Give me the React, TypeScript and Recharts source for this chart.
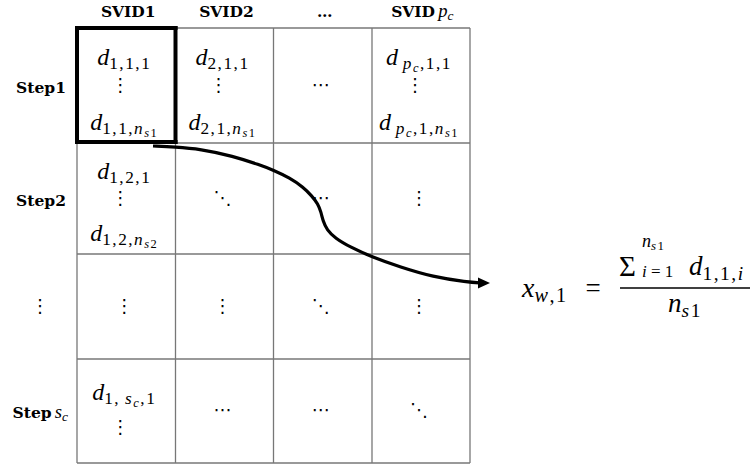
import React from "react";
import { ComposedChart, XAxis, YAxis, Line, Scatter, ReferenceLine } from "recharts";

const W = 753;
const H = 466;

// ---- content ----
const columnLabels = ["SVID1", "SVID2", "…", "SVID\u2009"];
const columnLabelMath = ["", "", "", "p_c"];
const rowLabels = ["Step1", "Step2", "", "Step\u2009"];
const rowLabelMath = ["", "", "", "s_c"];
const rowLabelSymbol = ["", "", "⋮", ""];

const cellTop = [
  ["d_{1,1,1}", "d_{2,1,1}", "", "d\u2009_{p_c,1,1}"],
  ["d_{1,2,1}", "", "", ""],
  ["", "", "", ""],
  ["d_{1,\u2009s_c,1}", "", "", ""],
];
const cellBottom = [
  ["d_{1,1,n_{s1}}", "d_{2,1,n_{s1}}", "", "d\u2009_{p_c,1,n_{s1}}"],
  ["d_{1,2,n_{s2}}", "", "", ""],
  ["", "", "", ""],
  ["", "", "", ""],
];
const cellSymbol = [
  ["⋮", "⋮", "⋯", "⋮"],
  ["⋮", "⋱", "⋯", "⋮"],
  ["⋮", "⋮", "⋱", "⋮"],
  ["⋮", "⋯", "⋯", "⋱"],
];

const formulaParts = ["x_{w,1}", "=", "Σ", "n_{s1}", "i = 1", "d_{1,1,i}", "n_{s1}"];

// ---- diagram geometry (diagram units) ----
const colEdges = [77, 175.5, 273.5, 372, 470];
const rowEdges = [28, 143, 254, 359, 463];
const highlightCell = { col: 0, row: 0 };
const arrowPath = [
  { x: 153, y: 146 }, { x: 175, y: 147 }, { x: 200, y: 149 }, { x: 233, y: 156 },
  { x: 260, y: 165 }, { x: 273, y: 170 }, { x: 290, y: 178 }, { x: 303, y: 187 },
  { x: 312, y: 196 }, { x: 318, y: 204 }, { x: 321, y: 212 }, { x: 323, y: 221 },
  { x: 327, y: 230 }, { x: 335, y: 238 }, { x: 350, y: 247 }, { x: 372, y: 257 },
  { x: 400, y: 267 }, { x: 433, y: 277 }, { x: 467, y: 282 }, { x: 482, y: 283 },
];
const arrowTip = [{ x: 490, y: 283 }];
const formulaAnchors = [
  { x: 522, y: 297, a: "start", s: 28 },
  { x: 593, y: 297, a: "middle", s: 27 },
  { x: 619, y: 276, a: "start", s: 29 },
  { x: 642, y: 247, a: "start", s: 18 },
  { x: 642, y: 277, a: "start", s: 17 },
  { x: 689, y: 275, a: "start", s: 27 },
  { x: 685, y: 312, a: "middle", s: 27 },
];
const fractionBar = { x1: 620, x2: 750, y: 288 };

// ---- math text renderer ----
type Seg = { t: string; size: number; shift: number; italic: boolean; bold: boolean; level: number };

function parseMath(s: string, size: number, shift: number, level: number, out: Seg[]) {
  let i = 0;
  while (i < s.length) {
    const ch = s[i];
    if (ch === "_" || ch === "^") {
      i++;
      let grp = "";
      if (s[i] === "{") {
        let depth = 1;
        let j = i + 1;
        while (j < s.length && depth > 0) {
          if (s[j] === "{") depth++;
          else if (s[j] === "}") depth--;
          j++;
        }
        grp = s.slice(i + 1, j - 1);
        i = j;
      } else {
        grp = s[i];
        i++;
      }
      const sz = size * 0.72;
      const sh = ch === "_" ? shift + size * 0.17 : shift - size * 0.42;
      parseMath(grp, sz, sh, level + 1, out);
    } else {
      const italic = /[a-zA-Z]/.test(ch);
      const last = out[out.length - 1];
      if (last && last.size === size && last.shift === shift && last.italic === italic && !last.bold) {
        last.t += ch;
      } else {
        out.push({ t: ch, size, shift, italic, bold: false, level });
      }
      i++;
    }
  }
}

const MATH_FONT = "'Liberation Serif', serif";
const BOLD_FONT = "'DejaVu Serif', serif";

function MathText(props: {
  x: number; y: number; tex: string; size: number; anchor?: string; prefix?: string; prefixSize?: number;
}) {
  const segs: Seg[] = [];
  if (props.prefix)
    segs.push({ t: props.prefix, size: props.prefixSize || props.size, shift: 0, italic: false, bold: true, level: 0 });
  parseMath(props.tex, props.prefix ? props.size * 1.2 : props.size, 0, 0, segs);
  let prev = 0;
  return (
    <text x={props.x} y={props.y} textAnchor={props.anchor || "middle"} fill="#000" style={{ whiteSpace: "pre" }}>
      {segs.map((s, k) => {
        const dy = s.shift - prev;
        prev = s.shift;
        return (
          <tspan
            key={k}
            dy={dy}
            fontSize={s.size}
            fontFamily={s.bold ? BOLD_FONT : MATH_FONT}
            fontStyle={s.italic ? "italic" : "normal"}
            fontWeight={s.bold ? "bold" : "normal"}
            letterSpacing={s.level > 0 ? 1.5 : 0}
          >
            {s.t}
          </tspan>
        );
      })}
    </text>
  );
}

// ---- build label table ----
type Item = { x: number; y: number; kind: string; tex: string; prefix?: string; size: number; anchor: string };
const items: Item[] = [];
const colCenter = (c: number) => (colEdges[c] + colEdges[c + 1]) / 2;

columnLabels.forEach((lab, c) => {
  items.push({ x: colCenter(c) + 2, y: 17, kind: "math", tex: columnLabelMath[c], prefix: lab, size: 15.5, anchor: "middle" });
});
rowLabels.forEach((lab, r) => {
  const top = rowEdges[r];
  const h = rowEdges[r + 1] - top;
  const cy = top + h / 2;
  if (rowLabelSymbol[r]) {
    items.push({ x: colEdges[0] - 37, y: cy, kind: "sym", tex: rowLabelSymbol[r], size: 18, anchor: "middle" });
  } else {
    items.push({ x: colEdges[0] - 36, y: cy + 7, kind: "math", tex: rowLabelMath[r], prefix: lab, size: 15.5, anchor: "middle" });
  }
});
cellTop.forEach((row, r) => {
  row.forEach((topTex, c) => {
    const top = rowEdges[r];
    const h = rowEdges[r + 1] - top;
    const cy = top + h / 2;
    const cx = colCenter(c) - 2;
    const botTex = cellBottom[r][c];
    const sym = cellSymbol[r][c];
    if (topTex && botTex) {
      items.push({ x: cx, y: top + 0.32 * h, kind: "math", tex: topTex, size: 24, anchor: "middle" });
      items.push({ x: cx, y: top + 0.885 * h, kind: "math", tex: botTex, size: 24, anchor: "middle" });
      items.push({ x: cx - 4, y: cy, kind: "sym", tex: sym, size: 18, anchor: "middle" });
    } else if (topTex) {
      items.push({ x: cx, y: cy - 11, kind: "math", tex: topTex, size: 24, anchor: "middle" });
      items.push({ x: cx - 4, y: cy + 17, kind: "sym", tex: sym, size: 18, anchor: "middle" });
    } else {
      items.push({ x: cx, y: cy, kind: "sym", tex: sym, size: 18, anchor: "middle" });
    }
  });
});
formulaParts.forEach((tex, k) => {
  const a = formulaAnchors[k];
  items.push({ x: a.x, y: a.y, kind: "math", tex, size: a.s, anchor: a.a });
});

const renderItem = (p: any) => {
  const d: Item = p.payload;
  if (!d) return <g />;
  if (d.kind === "sym") {
    return (
      <text
        x={p.cx}
        y={p.cy + d.size * 0.3}
        textAnchor="middle"
        fontFamily="'DejaVu Sans', sans-serif"
        fontSize={d.size}
        fill="#000"
      >
        {d.tex}
      </text>
    );
  }
  return <MathText x={p.cx} y={p.cy} tex={d.tex} size={d.size} anchor={d.anchor} prefix={d.prefix} />;
};

const renderArrowHead = (p: any) => (
  <polygon points={`${p.cx},${p.cy} ${p.cx - 12},${p.cy - 5.5} ${p.cx - 12},${p.cy + 5.5}`} fill="#000" />
);

const gridColor = "#777";

const hx1 = colEdges[highlightCell.col];
const hx2 = colEdges[highlightCell.col + 1];
const hy1 = rowEdges[highlightCell.row];
const hy2 = rowEdges[highlightCell.row + 1] - 1;
const boxSegments = [
  [{ x: hx1, y: hy1 }, { x: hx2, y: hy1 }],
  [{ x: hx2, y: hy1 }, { x: hx2, y: hy2 }],
  [{ x: hx2, y: hy2 }, { x: hx1, y: hy2 }],
  [{ x: hx1, y: hy2 }, { x: hx1, y: hy1 }],
];

export default function App() {
  return (
    <div style={{ position: "absolute", left: 0, top: 0, width: W, height: H, background: "#fff" }}>
      <ComposedChart width={W} height={H} data={arrowPath} margin={{ top: 0, right: 0, bottom: 0, left: 0 }}>
        <XAxis type="number" dataKey="x" domain={[0, W]} hide allowDataOverflow height={0} />
        <YAxis type="number" dataKey="y" domain={[0, H]} reversed hide allowDataOverflow width={0} />
        {colEdges.map((x, i) => (
          <ReferenceLine
            key={"v" + i}
            segment={[{ x, y: rowEdges[0] }, { x, y: rowEdges[rowEdges.length - 1] }]}
            stroke={gridColor}
            strokeWidth={1.3}
            ifOverflow="visible"
          />
        ))}
        {rowEdges.map((y, i) => (
          <ReferenceLine
            key={"h" + i}
            segment={[{ x: colEdges[0], y }, { x: colEdges[colEdges.length - 1], y }]}
            stroke={gridColor}
            strokeWidth={1.3}
            ifOverflow="visible"
          />
        ))}
        {boxSegments.map((seg, i) => (
          <ReferenceLine
            key={"b" + i}
            segment={seg}
            stroke="#000"
            strokeWidth={4}
            strokeLinecap="square"
            ifOverflow="visible"
          />
        ))}
        <ReferenceLine
          segment={[{ x: fractionBar.x1, y: fractionBar.y }, { x: fractionBar.x2, y: fractionBar.y }]}
          stroke="#000"
          strokeWidth={1.6}
          ifOverflow="visible"
        />
        <Line
          dataKey="y"
          type="basis"
          stroke="#000"
          strokeWidth={3.2}
          dot={false}
          activeDot={false}
          isAnimationActive={false}
        />
        <Scatter data={arrowTip} shape={renderArrowHead} isAnimationActive={false} />
        <Scatter data={items} shape={renderItem} isAnimationActive={false} />
      </ComposedChart>
    </div>
  );
}
